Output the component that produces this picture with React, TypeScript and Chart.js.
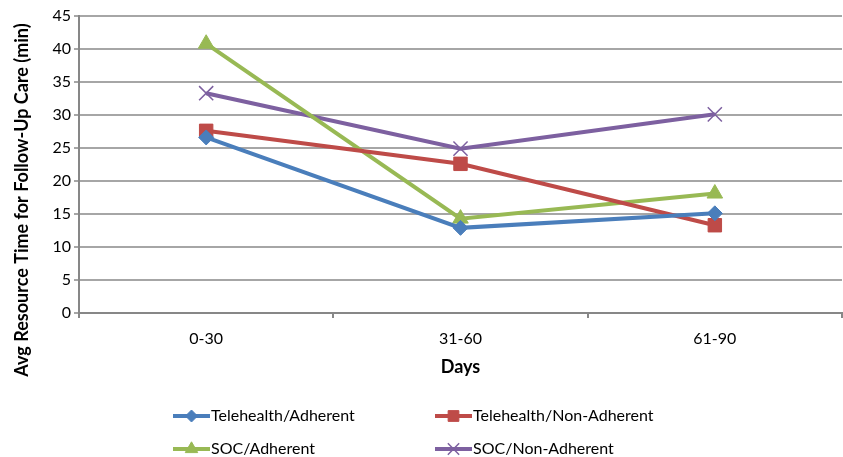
import React, { useEffect, useRef } from "react";
import { Chart, registerables } from "chart.js";

Chart.register(...registerables);

const categories = ["0-30", "31-60", "61-90"];
const seriesNames = [
  "Telehealth/Adherent",
  "Telehealth/Non-Adherent",
  "SOC/Adherent",
  "SOC/Non-Adherent",
];
const telehealthAdherent = [26.6, 12.9, 15.1];
const telehealthNonAdherent = [27.6, 22.6, 13.3];
const socAdherent = [40.8, 14.3, 18.1];
const socNonAdherent = [33.3, 24.9, 30.1];
const yTitle = "Avg Resource Time for Follow-Up Care (min)";
const xTitle = "Days";

const colors = ["#4A7EBB", "#BE4B48", "#98B954", "#7D60A0"];
const pointStyles = ["rectRot", "rect", "triangle", "crossRot"];
const pointRadii = [7.5, 9.5, 9, 10];

const FONT = "Lato, 'Open Sans', sans-serif";

function drawMarker(ctx: CanvasRenderingContext2D, style: string, x: number, y: number, r: number) {
  ctx.beginPath();
  if (style === "rectRot") {
    ctx.moveTo(x - r, y);
    ctx.lineTo(x, y - r);
    ctx.lineTo(x + r, y);
    ctx.lineTo(x, y + r);
    ctx.closePath();
    ctx.fill();
    ctx.stroke();
  } else if (style === "rect") {
    const s = r * Math.SQRT1_2;
    ctx.rect(x - s, y - s, 2 * s, 2 * s);
    ctx.fill();
    ctx.stroke();
  } else if (style === "triangle") {
    for (let k = 0; k < 3; k++) {
      const a = (k * 2 * Math.PI) / 3;
      const px = x + Math.sin(a) * r;
      const py = y - Math.cos(a) * r;
      if (k === 0) ctx.moveTo(px, py);
      else ctx.lineTo(px, py);
    }
    ctx.closePath();
    ctx.fill();
    ctx.stroke();
  } else {
    const o = r * Math.SQRT1_2;
    ctx.moveTo(x - o, y - o);
    ctx.lineTo(x + o, y + o);
    ctx.moveTo(x - o, y + o);
    ctx.lineTo(x + o, y - o);
    ctx.stroke();
  }
}

const extrasPlugin = {
  id: "extras",
  afterDraw(chart: any) {
    const ctx = chart.ctx;
    ctx.save();
    ctx.translate(22, 200);
    ctx.rotate(-Math.PI / 2);
    ctx.font = `bold 18px ${FONT}`;
    ctx.fillStyle = "#000";
    ctx.textAlign = "center";
    ctx.textBaseline = "middle";
    ctx.fillText(yTitle, 0, 0);
    ctx.restore();

    const cols = [173, 435];
    const rows = [416, 449];
    chart.data.datasets.forEach((ds: any, i: number) => {
      const x0 = cols[i % 2];
      const y = rows[Math.floor(i / 2)];
      ctx.save();
      ctx.strokeStyle = ds.borderColor;
      ctx.lineWidth = 4;
      ctx.beginPath();
      ctx.moveTo(x0, y);
      ctx.lineTo(x0 + 37, y);
      ctx.stroke();
      ctx.fillStyle = ds.pointBackgroundColor;
      ctx.strokeStyle = ds.pointBorderColor;
      ctx.lineWidth = ds.pointBorderWidth;
      const r = ds.pointStyle === "crossRot" ? 8 : ds.pointRadius * 0.8;
      drawMarker(ctx, ds.pointStyle, x0 + 18.5, y, r);
      ctx.font = `16px ${FONT}`;
      ctx.fillStyle = "#000";
      ctx.textAlign = "left";
      ctx.textBaseline = "middle";
      ctx.fillText(ds.label, x0 + 38, y);
      ctx.restore();
    });
  },
};

export default function App() {
  const ref = useRef<HTMLCanvasElement>(null);
  useEffect(() => {
    document.body.style.margin = "0";
    const values = [telehealthAdherent, telehealthNonAdherent, socAdherent, socNonAdherent];
    const chart = new Chart(ref.current!, {
      type: "line",
      data: {
        labels: categories,
        datasets: values.map((v, i) => ({
          label: seriesNames[i],
          data: v,
          borderColor: colors[i],
          backgroundColor: colors[i],
          borderWidth: 4,
          tension: 0,
          pointStyle: pointStyles[i] as any,
          pointRadius: pointRadii[i],
          pointBackgroundColor: colors[i],
          pointBorderColor: colors[i],
          pointBorderWidth: i === 3 ? 1.5 : 1,
          fill: false,
        })),
      },
      options: {
        responsive: false,
        animation: false,
        devicePixelRatio: 1,
        layout: { autoPadding: false, padding: { top: 16, right: 1, bottom: 77, left: 0 } },
        plugins: { legend: { display: false }, tooltip: { enabled: false } },
        scales: {
          x: {
            offset: true,
            grid: {
              display: true,
              offset: true,
              drawOnChartArea: false,
              drawTicks: true,
              tickLength: 5,
              color: "#878787",
              lineWidth: 2,
            },
            border: { display: true, color: "#878787", width: 2 },
            ticks: { color: "#000", font: { family: FONT, size: 16 }, padding: 11 },
            title: {
              display: true,
              text: xTitle,
              color: "#000",
              font: { family: FONT, size: 18, weight: "bold" },
              padding: { top: 0, bottom: 2 },
            },
            afterFit: (s: any) => {
              s.height = 67;
              s.paddingLeft = 0;
              s.paddingRight = 0;
            },
          },
          y: {
            min: 0,
            max: 45,
            ticks: { stepSize: 5, color: "#000", font: { family: FONT, size: 16 }, padding: 3 },
            grid: { color: "#a6a6a6", lineWidth: 2, tickLength: 5, drawTicks: true },
            border: { display: true, color: "#878787", width: 2 },
            afterFit: (s: any) => {
              s.width = 79;
            },
          },
        },
      },
      plugins: [extrasPlugin],
    });
    return () => chart.destroy();
  }, []);
  return (
    <div style={{ position: "absolute", left: 0, top: 0, width: 843, height: 457 }}>
      <canvas ref={ref} width={843} height={457} />
    </div>
  );
}
